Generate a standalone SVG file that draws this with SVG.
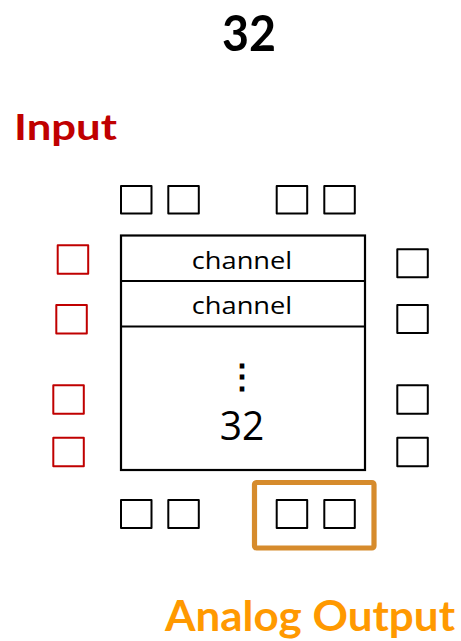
<svg xmlns="http://www.w3.org/2000/svg" width="461" height="641" viewBox="0 0 461 641">
  <style>
    .pin { fill: #fff; stroke: #000; stroke-width: 2; stroke-linejoin: round; }
    .pin-in { fill: #fff; stroke: #C00000; stroke-width: 2; stroke-linejoin: round; }
    .body { fill: #fff; stroke: #000; stroke-width: 2.2; }
    .divider { stroke: #000; stroke-width: 2.2; }
    .label { font-family: "Open Sans", "Noto Sans", "Liberation Sans", sans-serif; fill: #000; }
    .title { font-family: Lato, "Open Sans", "Liberation Sans", sans-serif; font-weight: bold; }
  </style>

  <!-- headings -->
  <text class="title" x="249" y="50.5" font-size="50" text-anchor="middle" textLength="54" lengthAdjust="spacingAndGlyphs" fill="#000">32</text>
  <text class="title" x="14" y="140" font-size="37" textLength="103" lengthAdjust="spacingAndGlyphs" fill="#C00000">Input</text>
  <text class="title" x="165" y="631" font-size="42" textLength="290" lengthAdjust="spacingAndGlyphs" fill="#FF9900">Analog Output</text>

  <!-- chip body with channel rows -->
  <g id="chip">
    <rect class="body" x="121" y="235.5" width="244" height="234.5"/>
    <line class="divider" x1="121" y1="281" x2="365" y2="281"/>
    <line class="divider" x1="121" y1="326.5" x2="365" y2="326.5"/>
    <text class="label" x="242" y="269.3" font-size="23" text-anchor="middle" textLength="100.5" lengthAdjust="spacingAndGlyphs">channel</text>
    <text class="label" x="242" y="314" font-size="23" text-anchor="middle" textLength="100.5" lengthAdjust="spacingAndGlyphs">channel</text>
    <text class="label" x="241.7" y="388" font-size="34" font-weight="bold" text-anchor="middle" font-family="DejaVu Sans, sans-serif">⋮</text>
    <text class="label" x="242" y="440" font-size="41" text-anchor="middle" textLength="44.5" lengthAdjust="spacingAndGlyphs">32</text>
  </g>

  <!-- top pins -->
  <g id="pins-top">
    <rect class="pin" x="121" y="186" width="30.5" height="27.5"/>
    <rect class="pin" x="168.3" y="186" width="30.5" height="27.5"/>
    <rect class="pin" x="276.7" y="186" width="30.5" height="27.5"/>
    <rect class="pin" x="324.3" y="186" width="30.5" height="27.5"/>
  </g>

  <!-- input pins (left) -->
  <g id="pins-input">
    <rect class="pin-in" x="57.7" y="245.3" width="30.5" height="28.5"/>
    <rect class="pin-in" x="56.3" y="305" width="30.5" height="28.5"/>
    <rect class="pin-in" x="53.3" y="385.3" width="30.5" height="28.5"/>
    <rect class="pin-in" x="53.3" y="437.7" width="30.5" height="28.5"/>
  </g>

  <!-- right pins -->
  <g id="pins-right">
    <rect class="pin" x="397.3" y="249.3" width="30.5" height="28"/>
    <rect class="pin" x="397.3" y="305" width="30.5" height="28"/>
    <rect class="pin" x="397.3" y="385.3" width="30.5" height="28.5"/>
    <rect class="pin" x="397.3" y="437.7" width="30.5" height="28.5"/>
  </g>

  <!-- bottom pins -->
  <g id="pins-bottom">
    <rect class="pin" x="121" y="500" width="30.5" height="28"/>
    <rect class="pin" x="168.3" y="500" width="30.5" height="28"/>
  </g>

  <!-- analog output pins, highlighted -->
  <g id="analog-output">
    <rect x="254.5" y="482.5" width="119.5" height="65.5" rx="2" fill="none" stroke="#D68B2C" stroke-width="5.2"/>
    <rect class="pin" x="276.7" y="500" width="30.5" height="28"/>
    <rect class="pin" x="324.3" y="500" width="30.5" height="28"/>
  </g>

  <!-- connectors: none drawn -->
  <g id="connectors"/>
</svg>
